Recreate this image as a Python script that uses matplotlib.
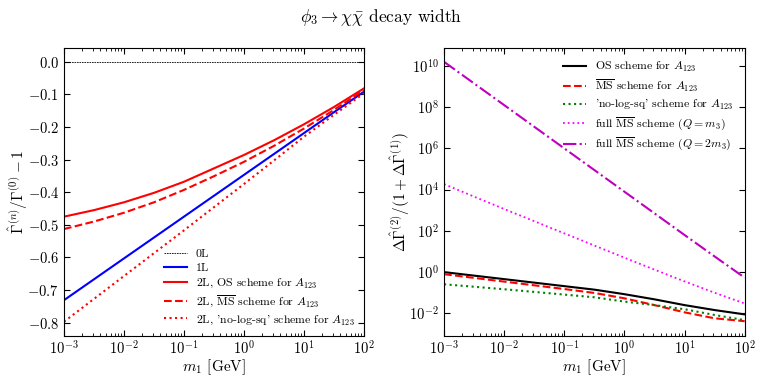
import numpy as np
import matplotlib
matplotlib.use("Agg")
import matplotlib.pyplot as plt
from matplotlib.ticker import FixedLocator, NullLocator, FuncFormatter, LogLocator

plt.rcParams['font.family'] = 'serif'
plt.rcParams['font.serif'] = ['cmr10', 'DejaVu Serif']
plt.rcParams['mathtext.fontset'] = 'cm'
plt.rcParams['axes.unicode_minus'] = False
plt.rcParams['axes.formatter.use_mathtext'] = True

# m1 values in GeV (half-decade steps)
m1 = [1e-3, 10**-2.5, 1e-2, 10**-1.5, 1e-1, 10**-0.5, 1e0, 10**0.5, 1e1, 10**1.5, 1e2]

# left panel: Gamma^(n)/Gamma^(0) - 1
r_0L = [0.0] * 11
r_1L = [-0.731, -0.667, -0.603, -0.539, -0.475, -0.411, -0.347, -0.283, -0.219, -0.155, -0.092]
r_2L_os = [-0.475, -0.455, -0.431, -0.402, -0.368, -0.327, -0.286, -0.241, -0.192, -0.139, -0.082]
r_2L_ms = [-0.513, -0.490, -0.463, -0.431, -0.393, -0.351, -0.307, -0.258, -0.205, -0.148, -0.087]
r_2L_nls = [-0.797, -0.727, -0.657, -0.587, -0.517, -0.446, -0.375, -0.303, -0.230, -0.163, -0.097]

# right panel: log10 of DeltaGamma^(2)/(1+DeltaGamma^(1))
lg_os = [0.0, -0.17, -0.34, -0.51, -0.68, -0.85, -1.07, -1.32, -1.60, -1.84, -2.05]
lg_ms = [-0.10, -0.28, -0.46, -0.64, -0.82, -1.01, -1.27, -1.60, -1.95, -2.24, -2.38]
lg_nls = [-0.59, -0.71, -0.83, -0.96, -1.09, -1.22, -1.43, -1.60, -1.80, -2.08, -2.33]
lg_full_q1 = [4.27, 3.66, 3.06, 2.47, 1.88, 1.29, 0.70, 0.12, -0.45, -1.00, -1.52]
lg_full_q2 = [10.2, 9.15, 8.1, 7.05, 6.0, 4.95, 3.9, 2.85, 1.8, 0.76, -0.27]

fig = plt.figure(figsize=(7.63, 3.81), dpi=100)
ax1 = fig.add_axes([0.0839, 0.118, 0.393, 0.756])
ax2 = fig.add_axes([0.582, 0.118, 0.394, 0.756])

ax1.plot(m1, r_0L, color='k', lw=0.6, ls=(0, (2, 1)), label='0L')
ax1.plot(m1, r_1L, color='b', lw=1.5, label='1L')
ax1.plot(m1, r_2L_os, color='r', lw=1.5, label='2L, OS scheme for $A_{123}$')
ax1.plot(m1, r_2L_ms, color='r', lw=1.5, ls='--', label=r'2L, $\overline{\rm MS}$ scheme for $A_{123}$')
ax1.plot(m1, r_2L_nls, color='r', lw=1.5, ls=':', label="2L, 'no-log-sq' scheme for $A_{123}$")
ax1.set_xscale('log')
ax1.set_xlim(1e-3, 1e2)
ax1.set_ylim(-0.841, 0.042)
ax1.yaxis.set_major_locator(FixedLocator(np.arange(-0.8, 0.05, 0.1)))
ax1.yaxis.set_minor_locator(NullLocator())
ax1.yaxis.set_major_formatter(FuncFormatter(lambda v, p: '$%.1f$' % (0.0 if abs(v) < 1e-9 else v)))
ax1.set_xlabel('$m_1$ [GeV]', fontsize=11, va='center')
ax1.set_ylabel(r'$\hat\Gamma^{(n)}/\Gamma^{(0)}-1$', fontsize=11, va='center')
ax1.xaxis.set_label_coords(0.5, -0.108)
ax1.yaxis.set_label_coords(-0.153, 0.5)
ax1.legend(loc='lower right', frameon=False, fontsize=8.5, handlelength=2.0,
           handletextpad=0.7, labelspacing=0.3, borderaxespad=0.4)

ax2.plot(m1, 10 ** np.array(lg_os), color='k', lw=1.5, label='OS scheme for $A_{123}$')
ax2.plot(m1, 10 ** np.array(lg_ms), color='r', lw=1.5, ls='--', label=r'$\overline{\rm MS}$ scheme for $A_{123}$')
ax2.plot(m1, 10 ** np.array(lg_nls), color='green', lw=1.5, ls=':', label="'no-log-sq' scheme for $A_{123}$")
ax2.plot(m1, 10 ** np.array(lg_full_q1), color='magenta', lw=1.3, ls=':', label=r'full $\overline{\rm MS}$ scheme $(Q=m_3)$')
ax2.plot(m1, 10 ** np.array(lg_full_q2), color='m', lw=1.5, ls='-.', label=r'full $\overline{\rm MS}$ scheme $(Q=2m_3)$')
ax2.set_xscale('log')
ax2.set_yscale('log')
ax2.set_xlim(1e-3, 1e2)
ax2.set_ylim(10 ** -3.1, 10 ** 10.87)
ax2.yaxis.set_major_locator(FixedLocator([1e-2, 1e0, 1e2, 1e4, 1e6, 1e8, 1e10]))
ax2.yaxis.set_minor_locator(NullLocator())
ax2.set_xlabel('$m_1$ [GeV]', fontsize=11, va='center')
ax2.set_ylabel(r'$\Delta\hat\Gamma^{(2)}/(1+\Delta\hat\Gamma^{(1)})$', fontsize=11, va='center')
ax2.xaxis.set_label_coords(0.5, -0.108)
ax2.yaxis.set_label_coords(-0.146, 0.5)
ax2.legend(loc='upper right', frameon=False, fontsize=8.5, handlelength=2.0,
           handletextpad=0.7, labelspacing=0.3, borderaxespad=0.6)

for ax in (ax1, ax2):
    ax.xaxis.set_major_locator(LogLocator(base=10, numticks=10))
    ax.xaxis.set_minor_locator(LogLocator(base=10, subs=np.arange(2, 10), numticks=20))
    ax.tick_params(which='both', direction='in', top=True, right=True, labelsize=10.5)
    ax.tick_params(axis='x', which='major', pad=2.5)
    ax.tick_params(which='major', length=4)
    ax.tick_params(which='minor', length=2)

fig.suptitle(r'$\phi_3 \to \chi\bar\chi$ decay width', y=0.955, va='center', fontsize=12.5)

fig.savefig('out.png', dpi=100)
